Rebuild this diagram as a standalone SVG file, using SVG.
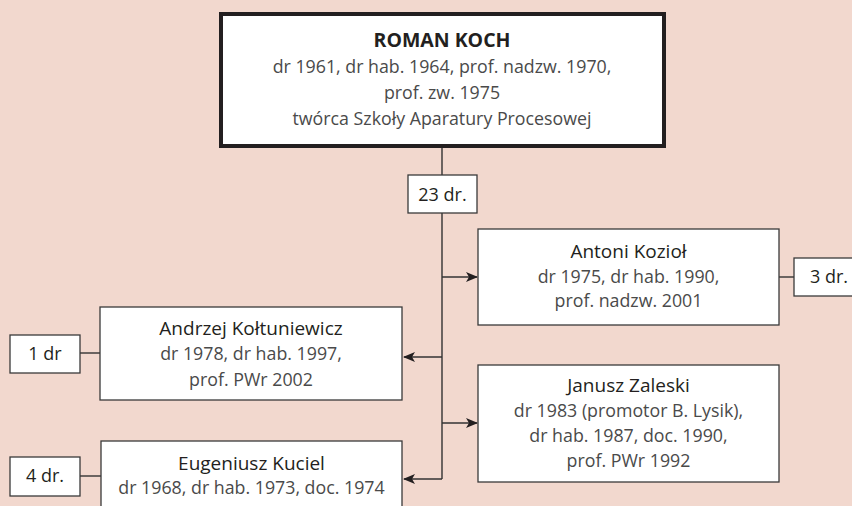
<svg xmlns="http://www.w3.org/2000/svg" width="852" height="506" viewBox="0 0 852 506">
  <style>
    .box { fill: #ffffff; stroke: #3a3a3a; stroke-width: 1.3; }
    .main { fill: #ffffff; stroke: #231f20; stroke-width: 4; }
    .name { font-family: "Open Sans", "Noto Sans", sans-serif; font-size: 19px; fill: #231f20; text-anchor: middle; }
    .title { font-family: "Open Sans", "Noto Sans", sans-serif; font-size: 19.5px; font-weight: bold; fill: #231f20; text-anchor: middle; }
    .info { font-family: "Open Sans", "Noto Sans", sans-serif; font-size: 17.8px; fill: #4a4a4a; text-anchor: middle; }
    .count { font-family: "Open Sans", "Noto Sans", sans-serif; font-size: 18px; fill: #231f20; text-anchor: middle; }
    .link { fill: none; stroke: #333333; stroke-width: 1.4; }
    .arrow { fill: none; stroke: #333333; stroke-width: 1.4; marker-end: url(#head); }
  </style>
  <defs>
    <marker id="head" viewBox="0 0 12 10" refX="11" refY="5" markerWidth="12" markerHeight="10" markerUnits="userSpaceOnUse" orient="auto">
      <path d="M0,0 L12,5 L0,10 L3,5 Z" fill="#231f20"/>
    </marker>
  </defs>
  <rect width="852" height="506" fill="#f2d8ce"/>

  <g id="connectors">
    <path class="link" d="M442,148 V175"/>
    <path class="link" d="M442,213 V479"/>
    <path class="arrow" d="M442,277 H477"/>
    <path class="arrow" d="M442,357 H404"/>
    <path class="arrow" d="M442,423 H477"/>
    <path class="arrow" d="M442,479 H404"/>
    <path class="link" d="M779,277 H794"/>
    <path class="link" d="M80,353 H100"/>
    <path class="link" d="M80,476 H101"/>
  </g>

  <g id="roman-koch">
    <rect class="main" x="221" y="14" width="443" height="132"/>
    <text class="title" x="442" y="47">ROMAN KOCH</text>
    <text class="info" x="442" y="73">dr 1961, dr hab. 1964, prof. nadzw. 1970,</text>
    <text class="info" x="442" y="99">prof. zw. 1975</text>
    <text class="info" x="442" y="125">twórca Szkoły Aparatury Procesowej</text>
  </g>

  <g id="count-23">
    <rect class="box" x="408" y="175" width="69" height="38"/>
    <text class="count" x="442.5" y="201">23 dr.</text>
  </g>

  <g id="antoni-koziol">
    <rect class="box" x="478" y="229" width="301" height="96"/>
    <text class="name" x="628.5" y="258">Antoni Kozioł</text>
    <text class="info" x="628.5" y="283">dr 1975, dr hab. 1990,</text>
    <text class="info" x="628.5" y="307">prof. nadzw. 2001</text>
  </g>

  <g id="count-3">
    <rect class="box" x="794" y="258" width="70" height="38"/>
    <text class="count" x="829" y="283">3 dr.</text>
  </g>

  <g id="andrzej-koltuniewicz">
    <rect class="box" x="100" y="307" width="302" height="93"/>
    <text class="name" x="251" y="335">Andrzej Kołtuniewicz</text>
    <text class="info" x="251" y="360">dr 1978, dr hab. 1997,</text>
    <text class="info" x="251" y="386">prof. PWr 2002</text>
  </g>

  <g id="count-1">
    <rect class="box" x="10" y="335" width="70" height="38"/>
    <text class="count" x="45" y="360">1 dr</text>
  </g>

  <g id="janusz-zaleski">
    <rect class="box" x="478" y="365" width="301" height="117"/>
    <text class="name" x="628.5" y="392">Janusz Zaleski</text>
    <text class="info" x="628.5" y="417">dr 1983 (promotor B. Lysik),</text>
    <text class="info" x="628.5" y="442">dr hab. 1987, doc. 1990,</text>
    <text class="info" x="628.5" y="467">prof. PWr 1992</text>
  </g>

  <g id="eugeniusz-kuciel">
    <rect class="box" x="101" y="441" width="301" height="80"/>
    <text class="name" x="251.5" y="470">Eugeniusz Kuciel</text>
    <text class="info" x="251.5" y="494">dr 1968, dr hab. 1973, doc. 1974</text>
  </g>

  <g id="count-4">
    <rect class="box" x="10" y="457" width="70" height="39"/>
    <text class="count" x="45" y="482">4 dr.</text>
  </g>
</svg>
